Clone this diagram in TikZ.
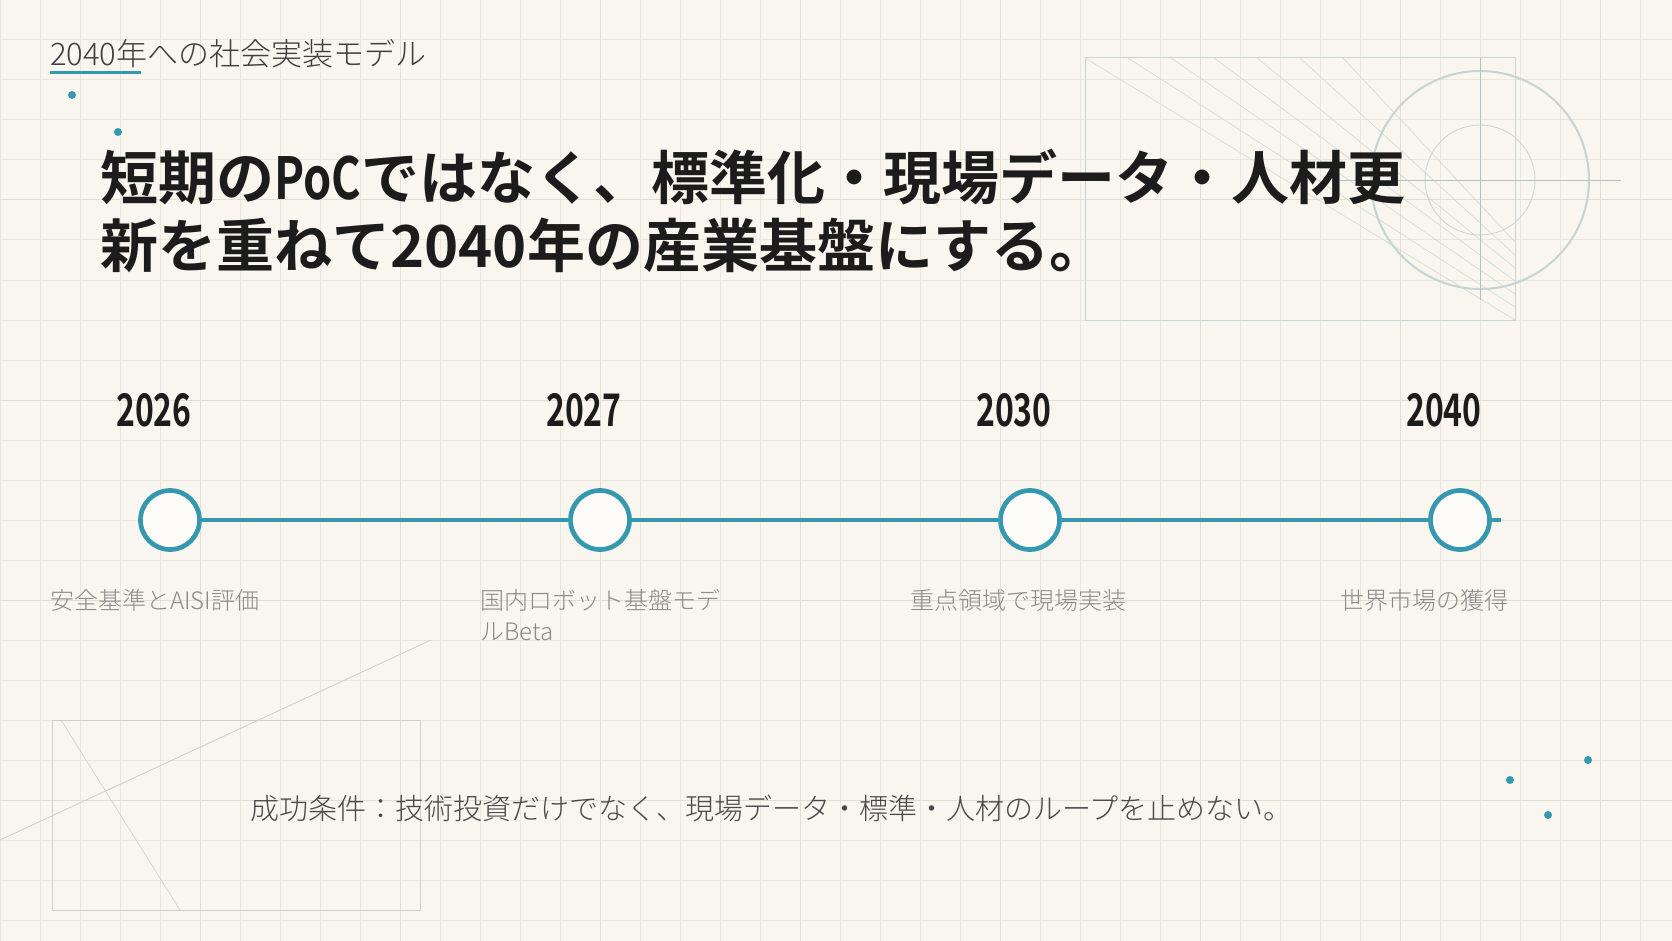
\documentclass[tikz,border=0pt]{standalone}
\usepackage{fontspec}
\newfontfamily\jpbold{Noto Sans CJK JP Bold}
\newfontfamily\jplight{Noto Sans CJK JP Light}
\newfontfamily\jpyear[FakeStretch=0.71]{Noto Sans CJK JP Bold}
\newfontfamily\jpnarrow[FakeStretch=0.78]{Noto Sans CJK JP Bold}
\definecolor{paper}{HTML}{F8F6EE}
\definecolor{gridminor}{HTML}{EAE6DB}
\definecolor{gridmajor}{HTML}{E2DED2}
\definecolor{accent}{HTML}{3598B0}
\definecolor{dotfill}{HTML}{FDFCF8}
\definecolor{ink}{HTML}{1C1C1C}
\definecolor{muted}{HTML}{8A8A8A}
\definecolor{deco}{HTML}{C6D4D3}
\definecolor{decosoft}{HTML}{CFD9D7}
\definecolor{decoline}{HTML}{AEC3C3}
\definecolor{sketch}{HTML}{D1CDC5}
\tikzset{
  gridline/.style={draw=gridminor, line width=1pt},
  gridbold/.style={draw=gridmajor, line width=1pt},
  milestone/.style={circle, draw=accent, line width=4.7pt, fill=dotfill, minimum size=59pt, inner sep=0pt},
  yearlabel/.style={anchor=base west, inner sep=0pt, text=ink, font=\jpyear\fontsize{45}{45}\selectfont},
  steplabel/.style={anchor=base west, inner sep=0pt, text=muted, text width=250pt, align=left, font=\jplight\fontsize{24}{31}\selectfont},
  axisline/.style={draw=accent, line width=4.5pt},
}

\begin{document}
\begin{tikzpicture}[x=1pt,y=-1pt]
        \def\gap{430}
        \def\axis{520}

        \useasboundingbox (0,0) rectangle (1672,941);
        \fill[paper] (0,0) rectangle (1672,941);
        \foreach \g in {0,40,...,1640} \draw[gridline] (\g,0) -- (\g,941);
        \foreach \g in {0,40,...,920} \draw[gridline] (0,\g) -- (1672,\g);
        \foreach \g in {200,400,...,1600} \draw[gridbold] (\g,0) -- (\g,941);
        \foreach \g in {200,400,600,800} \draw[gridbold] (0,\g) -- (1672,\g);

        \draw[deco, line width=1pt] (1085,58) rectangle (1515,320);
        \foreach \i in {0,...,6} {
          \draw[decosoft, line width=0.6pt] (1085+43*\i,58) -- (1515,320-13*\i);
        }
        \draw[deco, line width=2pt] (1480,180) circle (109);
        \draw[deco, line width=0.8pt] (1480,180) circle (55);
        \draw[decoline, line width=0.8pt] (1340,180) -- (1621,180);
        \draw[decoline, line width=0.8pt] (1480,58) -- (1480,300);

        \draw[sketch, line width=1pt] (52,720) rectangle (420,910);
        \draw[sketch, line width=0.6pt] (61,720) -- (180,910);
        \draw[sketch, line width=0.8pt] (0,840) -- (431,640);

        \foreach \p in {(72,95),(118,132),(1510,780),(1548,815),(1588,760)} {
          \fill[accent] \p circle (4);
        }

        \node[anchor=base west, inner sep=0pt, text=ink!85, font=\jplight\fontsize{31}{31}\selectfont] (kicker) at (50,65.5) {2040年への社会実装モデル};
        \draw[accent, line width=3pt] (50,73) -- (141,73);

        \node[anchor=base west, inner sep=0pt, text width=1450pt, align=left, text=ink, font=\jpbold\fontsize{58}{68}\selectfont] (headline) at (100,200) {短期の{\jpnarrow PoC}ではなく、標準化・現場データ・人材更\\新を重ねて2040年の産業基盤にする。};

        \foreach \yr/\txt [count=\i] in {2026/安全基準とAISI評価, 2027/{国内ロボット基盤モデ\\ルBeta}, 2030/重点領域で現場実装, 2040/世界市場の獲得} {
          \pgfmathsetmacro\cx{170+\gap*(\i-1)}
          \node[milestone] (m\i) at (\cx,\axis) {};
          \node[yearlabel] (y\i) at (\cx-54,426) {\yr};
          \node[steplabel] (t\i) at (\cx-120,609) {\txt};
        }
        \coordinate (tlend) at (1501,\axis);
        \foreach \i/\j in {1/2,2/3,3/4} {
          \draw[axisline] (m\i) -- (m\j);
        }
        \draw[axisline] (m4) -- (tlend);

        \node[anchor=base west, inner sep=0pt, text=ink!80, font=\jplight\fontsize{29}{29}\selectfont] (motto) at (250,819) {成功条件：技術投資だけでなく、現場データ・標準・人材のループを止めない。};
      \end{tikzpicture}
\end{document}
